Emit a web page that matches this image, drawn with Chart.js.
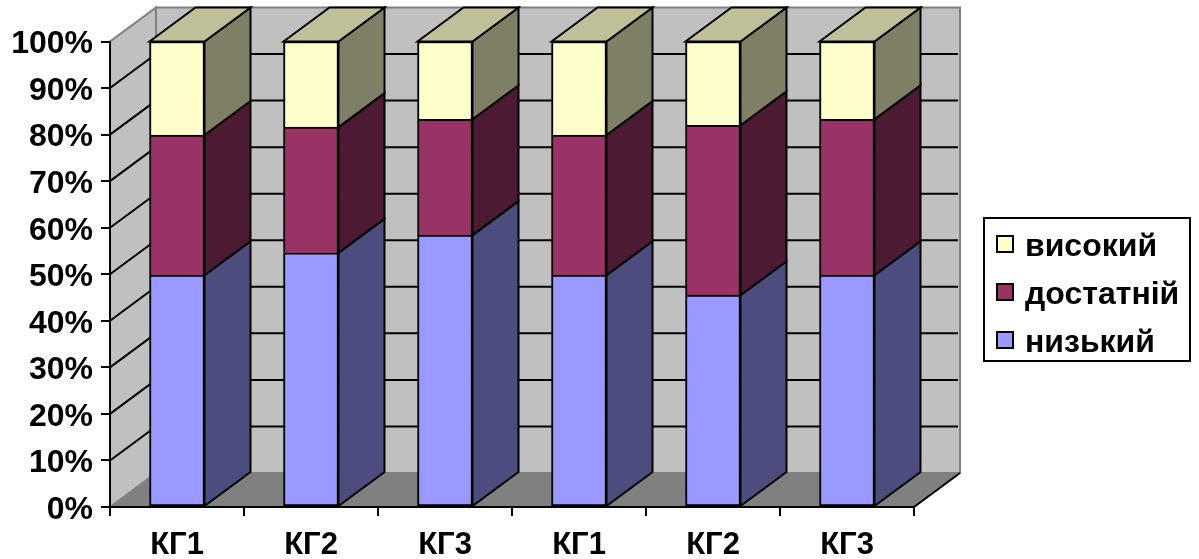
<!DOCTYPE html>
<html>
<head>
<meta charset="utf-8">
<style>
  html, body { margin: 0; background: #fff; }
  canvas { display: block; }
</style>
<script src="https://cdn.jsdelivr.net/npm/chart.js@4"></script>
</head>
<body>
<canvas id="chart" width="1199" height="559"></canvas>
<script>
const categories = ['КГ1', 'КГ2', 'КГ3', 'КГ1', 'КГ2', 'КГ3'];
const nizkyi = [49.8, 54.6, 58.4, 49.8, 45.5, 49.8];
const dostatnii = [30.1, 27.0, 24.9, 30.1, 36.5, 33.5];
const vysokyi = [20.1, 18.4, 16.7, 20.1, 18.0, 16.7];

const depthX = 46;
const depthY = -34;
const sideColors = ['#4c4c7f', '#4c1a33', '#7f7f66'];
const topColor = '#bfbf99';
const fontFamily = '"Liberation Sans", Arial, sans-serif';

const poly = (ctx, pts, fill, stroke) => {
    ctx.beginPath();
    pts.forEach((p, i) => i ? ctx.lineTo(p[0], p[1]) : ctx.moveTo(p[0], p[1]));
    ctx.closePath();
    if (fill) { ctx.fillStyle = fill; ctx.fill(); }
    if (stroke) { ctx.strokeStyle = stroke; ctx.lineWidth = 2; ctx.stroke(); }
};

const line = (ctx, x1, y1, x2, y2, color) => {
    ctx.beginPath();
    ctx.moveTo(x1, y1);
    ctx.lineTo(x2, y2);
    ctx.strokeStyle = color;
    ctx.lineWidth = 2;
    ctx.stroke();
};

// walls and floor behind the bars, legend box on the right
const room = {
    id: 'room',
    beforeDraw(chart) {
        const ctx = chart.ctx;
        const a = chart.chartArea;
        const y = chart.scales.y;
        ctx.save();
        poly(ctx, [[a.left, a.bottom], [a.left + depthX, a.bottom + depthY], [a.left + depthX, a.top + depthY], [a.left, a.top]], '#c0c0c0', '#808080');
        poly(ctx, [[a.left + depthX, a.top + depthY], [a.right + depthX, a.top + depthY], [a.right + depthX, a.bottom + depthY], [a.left + depthX, a.bottom + depthY]], '#c0c0c0', '#808080');
        for (const t of y.ticks) {
            if (t.value === 0 || t.value === 100) continue;
            const py = y.getPixelForValue(t.value);
            line(ctx, a.left, py, a.left + depthX, py + depthY, '#000');
            line(ctx, a.left + depthX, py + depthY, a.right + depthX - 2, py + depthY, '#000');
        }
        poly(ctx, [[a.left, a.bottom], [a.left + depthX, a.bottom + depthY], [a.right + depthX, a.bottom + depthY], [a.right, a.bottom]], '#808080');
        line(ctx, a.right, a.bottom, a.right + depthX, a.bottom + depthY, '#000');

        ctx.fillStyle = '#fff';
        ctx.fillRect(984, 218, 206, 143);
        ctx.strokeStyle = '#000';
        ctx.lineWidth = 2;
        ctx.strokeRect(984, 218, 206, 143);

        // highest series first, same order as the stack reads from the top
        ctx.font = 'bold 32px ' + fontFamily;
        ctx.textBaseline = 'alphabetic';
        chart.data.datasets.slice().reverse().forEach((ds, i) => {
            const rowY = 236 + i * 48;
            ctx.fillStyle = ds.backgroundColor;
            ctx.fillRect(997, rowY, 16, 16);
            ctx.strokeStyle = '#000';
            ctx.strokeRect(997, rowY, 16, 16);
            ctx.fillStyle = '#000';
            ctx.fillText(ds.label, 1025, 256 + i * 48);
        });
        ctx.restore();
    },
    // right side of every stack segment, plus the lid on the top one
    beforeDatasetsDraw(chart) {
        const ctx = chart.ctx;
        ctx.save();
        chart.data.datasets.forEach((ds, d) => {
            chart.getDatasetMeta(d).data.forEach((bar) => {
                const r = bar.x + bar.width / 2;
                const l = bar.x - bar.width / 2;
                poly(ctx, [[r, bar.y], [r + depthX, bar.y + depthY], [r + depthX, bar.base + depthY], [r, bar.base]], sideColors[d], '#000');
                if (d === chart.data.datasets.length - 1) {
                    poly(ctx, [[l, bar.y], [l + depthX, bar.y + depthY], [r + depthX, bar.y + depthY], [r, bar.y]], topColor, '#000');
                }
            });
        });
        ctx.restore();
    }
};

new Chart(document.getElementById('chart'), {
    type: 'bar',
    data: {
        labels: categories,
        datasets: [
            { label: 'низький', data: nizkyi, backgroundColor: '#9999ff', borderSkipped: false },
            { label: 'достатній', data: dostatnii, backgroundColor: '#993366', borderSkipped: 'bottom' },
            { label: 'високий', data: vysokyi, backgroundColor: '#ffffcc', borderSkipped: 'bottom' }
        ]
    },
    options: {
        responsive: false,
        animation: false,
        barThickness: 55,
        borderColor: '#000',
        borderWidth: 2,
        layout: { padding: { top: 41.5, right: 285, left: 0, bottom: 0 } },
        scales: {
            x: {
                stacked: true,
                afterFit(s) { s.height = 52; },
                grid: { drawOnChartArea: false, color: '#000', lineWidth: 2, tickLength: 9 },
                border: { color: '#000', width: 2 },
                ticks: { color: '#000', font: { family: fontFamily, size: 31, weight: 'bold' }, padding: 11, maxRotation: 0 }
            },
            y: {
                stacked: true,
                min: 0,
                max: 100,
                afterFit(s) { s.width = 110; },
                grid: { drawOnChartArea: false, color: '#000', lineWidth: 2, tickLength: 9 },
                border: { color: '#000', width: 2 },
                ticks: { color: '#000', font: { family: fontFamily, size: 32, weight: 'bold' }, stepSize: 10, padding: 8, labelOffset: 3, callback: (v) => v + '%' }
            }
        },
        plugins: {
            tooltip: { enabled: false },
            legend: { display: false }
        }
    },
    plugins: [room]
});
</script>
</body>
</html>
